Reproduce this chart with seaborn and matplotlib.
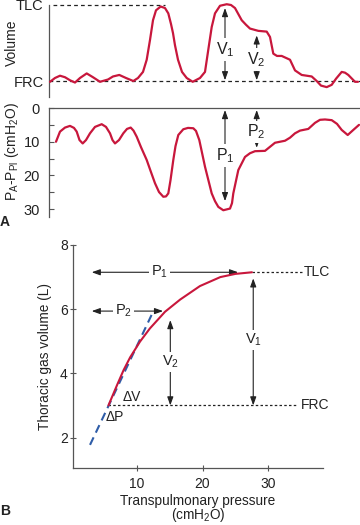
import matplotlib
matplotlib.use("Agg")
import matplotlib.pyplot as plt
import seaborn as sns

# ---------------- Panel A data (time in arbitrary units) ----------------
vol_t = [0.1, 0.6, 1.1, 1.6, 2.1, 2.6, 3.1, 3.77, 4.4, 5.1, 5.9, 6.4, 7.03, 7.7, 8.43,
         8.9, 9.4, 9.77, 10.1, 10.4, 10.7, 11.17, 11.6, 11.93, 12.2, 12.4, 12.6, 12.9,
         13.3, 13.77, 14.37, 15.1, 15.6, 15.95, 16.27, 16.6, 17.1, 17.77, 18.2, 18.6,
         19.27, 19.7, 20.1, 20.93, 21.77, 22.1, 22.43, 22.8, 23.27, 24.1, 24.6, 25.27,
         26.27, 26.77, 27.2, 27.77, 28.27, 28.7, 29.27, 29.6, 29.93, 30.3, 30.6, 30.9]
vol_v = [-0.01, 0.04, 0.07, 0.05, 0.01, -0.02, 0.04, 0.10, 0.05, -0.01, 0.02, 0.06,
         0.08, 0.04, 0.0, 0.04, 0.12, 0.28, 0.54, 0.80, 0.93, 0.98, 0.96, 0.89, 0.75,
         0.63, 0.47, 0.28, 0.12, 0.04, -0.01, 0.04, 0.12, 0.43, 0.71, 0.89, 0.99, 1.01,
         1.0, 0.96, 0.80, 0.74, 0.69, 0.66, 0.65, 0.58, 0.36, 0.33, 0.33, 0.28, 0.14,
         0.08, 0.06, 0.0, -0.06, -0.08, -0.05, 0.03, 0.12, 0.11, 0.08, 0.03, -0.01, -0.01]

pres_t = [0.7, 1.1, 1.6, 2.1, 2.5, 2.77, 3.05, 3.37, 3.7, 4.1, 4.6, 5.27, 5.7, 6.1,
          6.35, 6.6, 7.0, 7.43, 7.8, 8.17, 8.45, 8.77, 9.2, 9.77, 10.2, 10.6, 11.0,
          11.43, 11.7, 11.93, 12.15, 12.43, 12.65, 12.93, 13.43, 13.9, 14.43, 14.7,
          15.03, 15.6, 16.27, 16.6, 16.93, 17.43, 18.1, 18.3, 18.43, 18.93, 19.6, 20.1,
          20.6, 21.6, 22.1, 22.6, 23.6, 24.1, 24.6, 25.1, 25.93, 26.6, 27.1, 27.6, 28.27,
          28.8, 29.27, 29.87, 30.43, 31.0]
pres_p = [10.0, 7.0, 5.8, 5.3, 5.9, 7.0, 9.5, 10.5, 9.5, 7.5, 5.6, 4.8, 5.6, 7.5, 9.5,
          10.5, 9.5, 7.5, 6.2, 5.8, 6.7, 8.5, 11.6, 15.4, 19.0, 22.3, 24.9, 26.3, 26.2,
          25.3, 21.4, 15.4, 11.3, 8.0, 6.3, 5.9, 6.0, 6.8, 9.5, 17.4, 25.3, 27.6, 29.3,
          30.3, 29.8, 28.2, 25.3, 18.4, 14.5, 13.4, 12.8, 12.7, 11.5, 10.3, 9.7, 8.8, 7.5,
          6.7, 6.2, 4.4, 3.5, 3.4, 3.6, 4.7, 6.5, 8.0, 6.5, 5.0]

vol_ticks = [0, 1]
vol_ticklabels = ["FRC", "TLC"]
pres_ticks = [0, 10, 20, 30]
pres_minor = [5, 15, 25]

# annotation values panel A
v1_t, v1_top, v1_bot = 17.6, 0.96, 0.01
v2_t, v2_top, v2_bot = 20.77, 0.60, 0.01
p1_t, p1_top, p1_bot = 17.6, 0.6, 27.6
p2_t, p2_top, p2_bot = 20.77, 0.6, 11.8

# ---------------- Panel B data ----------------
tp_p = [5.7, 7.0, 8.0, 9.0, 10.5, 12.0, 14.3, 16.6, 19.6, 22.7, 25.0, 27.5]
tp_v = [3.0, 3.63, 4.1, 4.5, 4.99, 5.4, 5.92, 6.3, 6.72, 7.0, 7.1, 7.15]
tangent_p = [2.9, 12.3]
tangent_v = [1.77, 5.84]
frc_v = 3.0
tlc_v = 7.15
b_xticks = [10, 20, 30]
b_yticks = [2, 4, 6, 8]

RED = "#c8173c"
BLUE = "#2f5da8"
DARK = "#222222"
SPINE = "#555555"

sns.set_style("white")
plt.rcParams['font.family'] = ['Liberation Sans', 'DejaVu Sans']
plt.rcParams['mathtext.fontset'] = 'custom'
plt.rcParams['mathtext.rm'] = 'Liberation Sans'
plt.rcParams['mathtext.it'] = 'Liberation Sans:italic'
plt.rcParams['mathtext.bf'] = 'Liberation Sans:bold'
plt.rcParams['text.color'] = DARK

W, H = 360.0, 525.0
fig = plt.figure(figsize=(3.6, 5.25), dpi=100)
axV = fig.add_axes([49 / W, 1 - 97 / H, 311 / W, 92 / H])
axP = fig.add_axes([49 / W, 1 - 217 / H, 311 / W, 109 / H])
axB = fig.add_axes([73.3 / W, 1 - 468.3 / H, 249.7 / W, 223.3 / H])

for ax in (axV, axP, axB):
    ax.set_facecolor("none")
    for s in ax.spines.values():
        s.set_visible(False)
        s.set_color(SPINE)
        s.set_linewidth(0.9)


def darrow(ax, x0, y0, x1, y1):
    ax.annotate("", xy=(x1, y1), xytext=(x0, y0),
                arrowprops=dict(arrowstyle="<|-|>,head_length=0.5,head_width=0.18",
                                color=DARK, lw=0.8, shrinkA=0, shrinkB=0))


def label(ax, x, y, s, size):
    ax.text(x, y, s, ha="center", va="center", fontsize=size, color=DARK,
            bbox=dict(fc="white", ec="none", pad=1.5), zorder=5)


# ---- Volume panel ----
axV.spines["left"].set_visible(True)
axV.set_xlim(0, 31.1)
axV.set_ylim(-0.21, 1.0)
axV.plot([0.4, 11.6], [1, 1], ls=(0, (3, 2.5)), color=DARK, lw=0.9, clip_on=False)
axV.axhline(0, ls=(0, (3, 2.5)), color=DARK, lw=0.9)
sns.lineplot(x=vol_t, y=vol_v, ax=axV, color=RED, lw=1.6, clip_on=False, zorder=4)
axV.set_xticks([])
axV.set_yticks(vol_ticks, vol_ticklabels)
axV.tick_params(axis="y", length=0, pad=4, labelsize=10.5, labelcolor=DARK)
darrow(axV, v1_t, v1_bot, v1_t, v1_top)
label(axV, v1_t, 0.41, "V$_1$", 11.5)
darrow(axV, v2_t, v2_bot, v2_t, v2_top)
label(axV, v2_t, 0.28, "V$_2$", 11.5)

# ---- Pressure panel ----
axP.spines["left"].set_visible(True)
axP.spines["top"].set_visible(True)
axP.set_xlim(0, 31.1)
axP.set_ylim(32.3, 0)
sns.lineplot(x=pres_t, y=pres_p, ax=axP, color=RED, lw=1.6, clip_on=False, zorder=4)
axP.set_xticks([])
axP.set_yticks(pres_ticks)
axP.set_yticks(pres_minor, minor=True)
axP.tick_params(axis="y", which="both", direction="in", length=3.5, width=0.8,
                color=SPINE, pad=6.5, labelsize=10.5, labelcolor=DARK, left=True)
darrow(axP, p1_t, p1_bot, p1_t, p1_top)
label(axP, p1_t, 14, "P$_1$", 11.5)
darrow(axP, p2_t, p2_bot, p2_t, p2_top)
label(axP, p2_t, 7.1, "P$_2$", 11.5)

fig.text(12 / W, 1 - 43 / H, "Volume", rotation=90, ha="center", va="center",
         fontsize=10, color=DARK)
fig.text(12.5 / W, 1 - 152 / H,
         r"P$_\mathregular{A}$-P$_\mathregular{Pl}$ (cmH$_\mathregular{2}$O)",
         rotation=90, ha="center", va="center", fontsize=10, color=DARK)
fig.text(5 / W, 1 - 222 / H, "A", ha="center", va="center", fontsize=10,
         fontweight="bold", color=DARK)

# ---- Panel B ----
axB.spines["left"].set_visible(True)
axB.spines["bottom"].set_visible(True)
axB.set_xlim(0.36, 38.3)
axB.set_ylim(1.04, 8.0)
axB.plot(tangent_p, tangent_v, ls=(0, (4, 2.5)), color=BLUE, lw=1.5, zorder=3)
sns.lineplot(x=tp_p, y=tp_v, ax=axB, color=RED, lw=1.5, zorder=4)
axB.set_xticks(b_xticks)
axB.set_yticks(b_yticks)
axB.tick_params(axis="both", direction="inout", length=5, width=0.8, color=SPINE,
                labelsize=10, labelcolor=DARK, bottom=True, left=True)
axB.tick_params(axis="y", pad=1.5)
axB.tick_params(axis="x", pad=3.5)

# reference lines
axB.plot([tp_p[-1], 35.3], [tlc_v, tlc_v], ls=(0, (2, 1.8)), color=DARK, lw=0.9)
axB.plot([tp_p[0], 34.4], [frc_v, frc_v], ls=(0, (2, 1.8)), color=DARK, lw=0.9)
axB.text(35.4, tlc_v, "TLC", ha="left", va="center", fontsize=10)
axB.text(35.0, frc_v, "FRC", ha="left", va="center", fontsize=10)

darrow(axB, 3.16, tlc_v, 25.4, tlc_v)
label(axB, 13.5, tlc_v, "P$_1$", 10.5)
darrow(axB, 3.16, 5.94, 14.0, 5.94)
label(axB, 8.0, 5.94, "P$_2$", 10.5)
darrow(axB, 27.7, frc_v, 27.7, 6.96)
label(axB, 27.7, 5.04, "V$_1$", 10.5)
darrow(axB, 15.1, frc_v, 15.1, 5.66)
label(axB, 15.1, 4.36, "V$_2$", 10.5)
axB.text(9.2, 3.27, "ΔV", ha="center", va="center", fontsize=10)
axB.text(5.3, 2.65, "ΔP", ha="left", va="center", fontsize=10)

fig.text(45 / W, 1 - 356 / H, "Thoracic gas volume (L)", rotation=90,
         ha="center", va="center", fontsize=9.8, color=DARK)
fig.text(198 / W, 1 - 500.5 / H, "Transpulmonary pressure",
         ha="center", va="center", fontsize=9.8, color=DARK)
fig.text(198 / W, 1 - 515 / H, "(cmH$_\\mathregular{2}$O)",
         ha="center", va="center", fontsize=9.8, color=DARK)
fig.text(5 / W, 1 - 511 / H, "B", ha="center", va="center", fontsize=10,
         fontweight="bold", color=DARK)

fig.savefig("out.png", dpi=100)
